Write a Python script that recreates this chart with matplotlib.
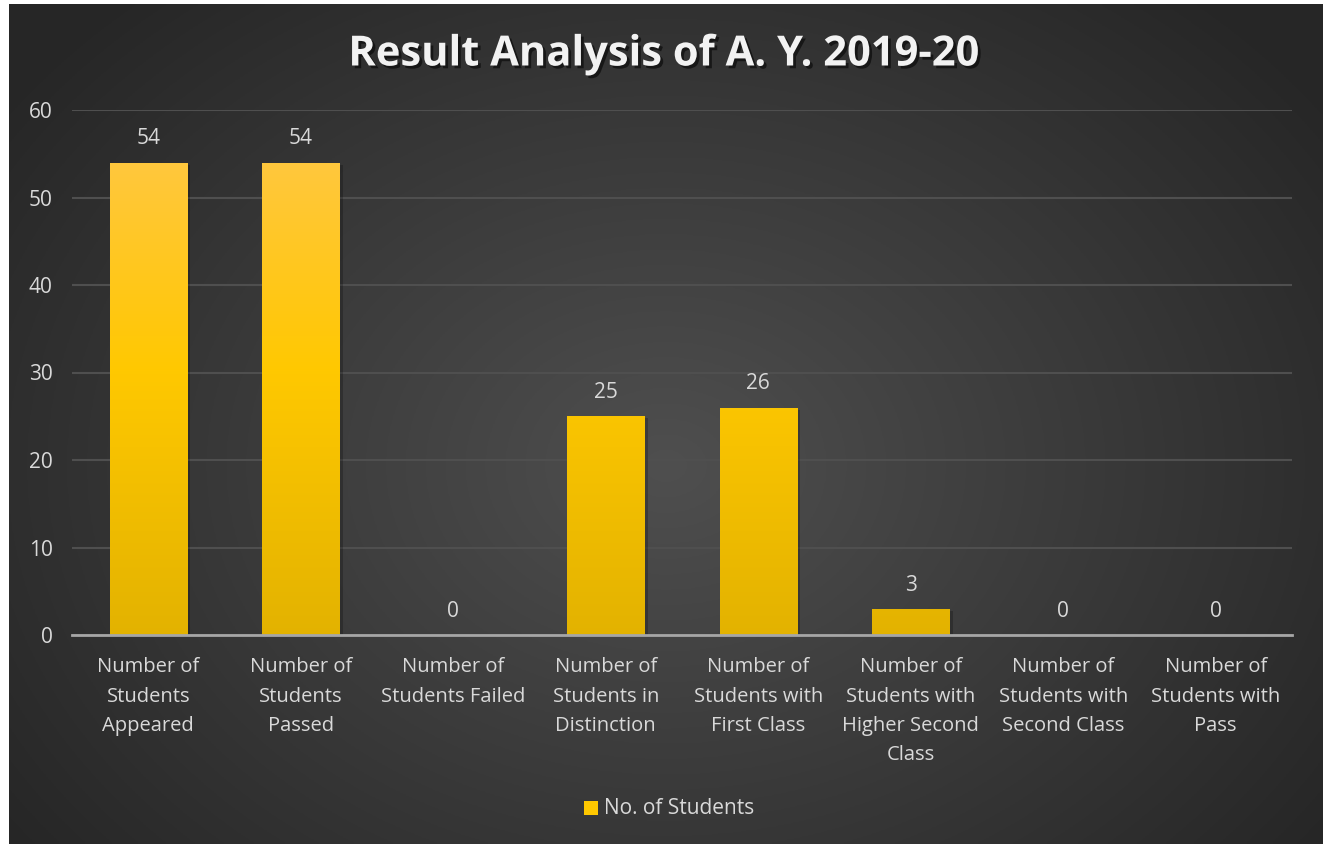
import numpy as np
import matplotlib.pyplot as plt
import matplotlib.patheffects as pe
from matplotlib.patches import Rectangle

plt.rcParams['font.family'] = ['Open Sans', 'DejaVu Sans']

# data
categories = ['Number of\nStudents\nAppeared', 'Number of\nStudents\nPassed',
              'Number of\nStudents Failed', 'Number of\nStudents in\nDistinction',
              'Number of\nStudents with\nFirst Class', 'Number of\nStudents with\nHigher Second\nClass',
              'Number of\nStudents with\nSecond Class', 'Number of\nStudents with\nPass']
values = [54, 54, 0, 25, 26, 3, 0, 0]
series_name = 'No. of Students'
title = 'Result Analysis of A. Y. 2019-20'

W, H = 1323, 844
fig = plt.figure(figsize=(W / 100, H / 100), dpi=100, facecolor='white')

# dark radial background (chart area starts a few px in from left/top)
bg = fig.add_axes([9 / W, 0, 1 - 9 / W, 1 - 4 / H])
yy, xx = np.mgrid[0:1:300j, 0:1:500j]
r = np.sqrt(((xx - 0.5) / 0.62) ** 2 + ((yy - 0.55) / 0.75) ** 2)
shade = np.clip(0.31 - 0.16 * r, 0.15, 0.31)
bg.imshow(np.dstack([shade] * 3), aspect='auto', extent=[0, 1, 0, 1])
bg.axis('off')

ax = fig.add_axes([72 / W, 1 - 635 / H, 1220 / W, 525 / H])
ax.patch.set_alpha(0)
x = np.arange(len(values))
bars = ax.bar(x, values, width=0.505, color='#FFC800', zorder=3)

# vertical gradient on each bar
grad = np.linspace(0, 1, 256).reshape(-1, 1)
c_top = np.array([1.0, 0.78, 0.30])
c_mid = np.array([1.0, 0.785, 0.0])
c_bot = np.array([0.89, 0.70, 0.0])
g = np.where(grad < 0.5, c_bot + (c_mid - c_bot) * (grad / 0.5),
             c_mid + (c_top - c_mid) * ((grad - 0.5) / 0.5))
g = g.reshape(256, 1, 3)
for b in bars:
    h = b.get_height()
    if h <= 0:
        continue
    b.set_path_effects([pe.SimplePatchShadow(offset=(2.5, -1.5), shadow_rgbFace='black', alpha=0.22), pe.Normal()])
    im = ax.imshow(g, extent=[b.get_x(), b.get_x() + b.get_width(), 0, 60], origin='lower',
                   aspect='auto', zorder=4)
    im.set_clip_path(b)

for xi, v in zip(x, values):
    ax.annotate(str(v), (xi, v), xytext=(0, 9.5), textcoords='offset points',
                ha='center', va='bottom', color='#d9d9d9', fontsize=15)

ax.set_xlim(-0.5, len(values) - 0.5)
ax.set_ylim(0, 60)
ax.set_yticks(range(0, 61, 10))
ax.yaxis.grid(True, color='#4f4f4f', linewidth=1.5, zorder=0)
ax.set_axisbelow(True)
for s in ['top', 'right', 'left']:
    ax.spines[s].set_visible(False)
ax.spines['bottom'].set_color('#a6a6a6')
ax.spines['bottom'].set_linewidth(2)
ax.spines['bottom'].set_zorder(5)
ax.tick_params(length=0, colors='#d9d9d9', labelsize=14.5)
ax.tick_params(axis='y', pad=14, labelsize=15)
ax.tick_params(axis='x', pad=16)
ax.set_xticks(x)
ax.set_xticklabels(categories, linespacing=1.62)

fig.text(664 / W, 1 - 55 / H, title, ha='center', va='center', fontsize=30, fontweight='bold',
         color='#f2f2f2',
         path_effects=[pe.withSimplePatchShadow(offset=(2, -2), shadow_rgbFace='black', alpha=0.55)])

# legend
fig.patches.append(Rectangle((584 / W, 1 - 815 / H), 14 / W, 14 / H, transform=fig.transFigure,
                             facecolor='#FFC800', edgecolor='none'))
fig.text(604 / W, 1 - 809 / H, series_name, ha='left', va='center', fontsize=15, color='#d9d9d9')

fig.savefig('out.png', dpi=100, facecolor='white')
